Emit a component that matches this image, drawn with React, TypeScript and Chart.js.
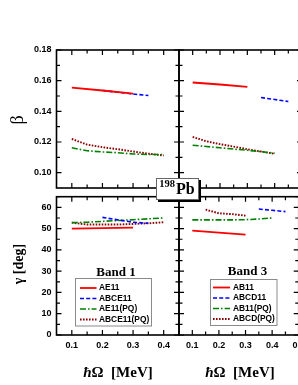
import React, { useEffect, useRef } from "react";
import { Chart, registerables } from "chart.js";
Chart.register(...registerables);

// ---------- data ----------
const hw = [0.1, 0.15, 0.2, 0.25, 0.3, 0.35, 0.4];

// Band 1, beta
const b1BetaAE11X = [0.1, 0.2, 0.3];
const b1BetaAE11 = [0.1555, 0.1536, 0.1516];
const b1BetaABCE11X = [0.2, 0.25, 0.3, 0.35];
const b1BetaABCE11 = [0.1536, 0.1525, 0.1513, 0.1503];
const b1BetaAE11PQ = [0.1162, 0.1143, 0.1135, 0.113, 0.1122, 0.1118, 0.1118];
const b1BetaABCE11PQ = [0.122, 0.1183, 0.1166, 0.1153, 0.1138, 0.1124, 0.1112];

// Band 3, beta
const b3BetaAB11X = [0.1, 0.2, 0.3];
const b3BetaAB11 = [0.1588, 0.1575, 0.156];
const b3BetaABCD11X = [0.35, 0.4, 0.45];
const b3BetaABCD11 = [0.149, 0.1477, 0.1464];
const b3BetaAB11PQ = [0.1179, 0.1171, 0.1162, 0.1154, 0.1146, 0.1137, 0.1127];
const b3BetaABCDPQ = [0.1233, 0.1205, 0.1186, 0.117, 0.1153, 0.1138, 0.1123];

// Band 1, gamma
const b1GamAE11X = [0.1, 0.2, 0.3];
const b1GamAE11 = [50.0, 50.2, 50.5];
const b1GamABCE11X = [0.2, 0.25, 0.3, 0.35];
const b1GamABCE11 = [55.3, 54.1, 53.0, 52.5];
const b1GamAE11PQ = [52.8, 53.0, 53.4, 53.8, 54.2, 54.6, 55.0];
const b1GamABCE11PQ = [52.8, 51.9, 51.9, 51.9, 52.2, 52.5, 53.0];

// Band 3, gamma
const b3GamAB11X = [0.1, 0.2, 0.3];
const b3GamAB11 = [49.1, 48.1, 47.2];
const b3GamABCD11X = [0.35, 0.4, 0.45];
const b3GamABCD11 = [59.2, 58.6, 58.0];
const b3GamAB11PQ = [54.1, 54.1, 54.1, 54.1, 54.2, 54.5, 55.0];
const b3GamABCDPQX = [0.15, 0.2, 0.25, 0.3];
const b3GamABCDPQ = [58.9, 57.2, 56.8, 56.1];

// tick labels
const xTickLeft = [0.1, 0.2, 0.3, 0.4];
const xTickRight = [0.1, 0.2, 0.3, 0.4, 0.5];
const betaTicks = [0.1, 0.12, 0.14, 0.16, 0.18];
const gammaTicks = [0, 10, 20, 30, 40, 50, 60];

const band1Names = ["AE11", "ABCE11", "AE11(PQ)", "ABCE11(PQ)"];
const band3Names = ["AB11", "ABCD11", "AB11(PQ)", "ABCD(PQ)"];

// ---------- styles ----------
const STY = [
  { color: "#ff0000", width: 1.8, dash: [] as number[] },
  { color: "#0000ff", width: 1.6, dash: [4, 2.2] },
  { color: "#008000", width: 1.6, dash: [6, 2, 1.6, 2] },
  { color: "#8b0000", width: 1.9, dash: [1.6, 1.4] },
];

const W = 310;
const H = 385;
const TICK_FONT = { family: "'Liberation Sans', Arial, sans-serif", size: 9, weight: "bold" as const };

function range(a: number, b: number, s: number) {
  const out: number[] = [];
  for (let v = a; v <= b + 1e-9; v += s) out.push(Math.round(v * 10000) / 10000);
  return out;
}

const framePlugin = {
  id: "frame",
  afterDatasetsDraw(chart: any, _a: any, o: any) {
    const { ctx, chartArea: a, scales } = chart;
    const xs = scales.x;
    const ys = scales.y;
    ctx.save();
    ctx.strokeStyle = "#000";
    ctx.lineWidth = 1.2;
    ctx.beginPath();
    for (const [v, len] of o.xt) {
      const px = xs.getPixelForValue(v);
      ctx.moveTo(px, a.top);
      ctx.lineTo(px, a.top + len);
      ctx.moveTo(px, a.bottom);
      ctx.lineTo(px, a.bottom - len);
    }
    for (const [v, len] of o.yt) {
      const py = ys.getPixelForValue(v);
      ctx.moveTo(a.left, py);
      ctx.lineTo(a.left + len, py);
      ctx.moveTo(a.right, py);
      ctx.lineTo(a.right - len, py);
    }
    ctx.stroke();
    ctx.lineWidth = 1.6;
    ctx.strokeRect(a.left, a.top, a.right - a.left, a.bottom - a.top);
    ctx.restore();
  },
};

const legendPlugin = {
  id: "boxLegend",
  afterDraw(chart: any, _a: any, o: any) {
    if (!o || !o.show) return;
    const ctx = chart.ctx;
    ctx.save();
    ctx.fillStyle = "#fff";
    ctx.fillRect(o.x, o.y, o.w, o.h);
    ctx.strokeStyle = "#8a8a8a";
    ctx.lineWidth = 1;
    ctx.strokeRect(o.x + 0.5, o.y + 0.5, o.w, o.h);
    ctx.font = o.font;
    ctx.textBaseline = "middle";
    chart.data.datasets.forEach((ds: any, i: number) => {
      const yy = o.row0 + i * o.dy;
      ctx.strokeStyle = ds.borderColor;
      ctx.lineWidth = ds.borderWidth;
      ctx.setLineDash(ds.borderDash || []);
      ctx.beginPath();
      ctx.moveTo(o.s0, yy);
      ctx.lineTo(o.s1, yy);
      ctx.stroke();
      ctx.setLineDash([]);
      ctx.fillStyle = "#000";
      ctx.fillText(ds.label, o.tx, yy);
    });
    ctx.restore();
  },
};

type Series = { label: string; x: number[]; y: number[] };
type PanelSpec = {
  series: Series[];
  xMax: number;
  yMin: number;
  yMax: number;
  padding: { left: number; top: number; right: number; bottom: number };
  showX: boolean;
  showY: boolean;
  xTicks: number[];
  yTicks: number[];
  yFmt: (v: number) => string;
  xt: [number, number][];
  yt: [number, number][];
  legend?: any;
};

function Panel({ spec }: { spec: PanelSpec }) {
  const ref = useRef<HTMLCanvasElement | null>(null);
  useEffect(() => {
    if (!ref.current) return;
    const chart = new Chart(ref.current, {
      type: "line",
      data: {
        datasets: spec.series.map((s, i) => ({
          label: s.label,
          data: s.x.map((x, k) => ({ x, y: s.y[k] })),
          borderColor: STY[i].color,
          borderWidth: STY[i].width,
          borderDash: STY[i].dash,
          pointRadius: 0,
          fill: false,
          tension: 0,
        })),
      },
      options: {
        animation: false,
        responsive: false,
        maintainAspectRatio: false,
        events: [],
        layout: { padding: spec.padding },
        plugins: {
          legend: { display: false },
          tooltip: { enabled: false },
          frame: { xt: spec.xt, yt: spec.yt },
          boxLegend: spec.legend || { show: false },
        } as any,
        scales: {
          x: {
            type: "linear",
            min: 0.05,
            max: spec.xMax,
            display: spec.showX,
            grid: { display: false, drawTicks: false },
            border: { display: false },
            ticks: {
              font: TICK_FONT,
              color: "#000",
              padding: 5,
              maxRotation: 0,
              autoSkip: false,
              callback: (v: any) => Number(v).toFixed(1),
            },
            afterBuildTicks: (s: any) => {
              s.ticks = spec.xTicks.map((v) => ({ value: v }));
            },
            afterFit: (s: any) => {
              s.height = spec.showX ? 20 : 0;
            },
          },
          y: {
            type: "linear",
            min: spec.yMin,
            max: spec.yMax,
            display: spec.showY,
            grid: { display: false, drawTicks: false },
            border: { display: false },
            ticks: {
              font: TICK_FONT,
              color: "#000",
              padding: 5,
              autoSkip: false,
              callback: (v: any) => spec.yFmt(Number(v)),
            },
            afterBuildTicks: (s: any) => {
              s.ticks = spec.yTicks.map((v) => ({ value: v }));
            },
            afterFit: (s: any) => {
              s.width = spec.showY ? 56.5 : 0;
            },
          },
        },
      } as any,
      plugins: [framePlugin, legendPlugin],
    } as any);
    return () => chart.destroy();
  }, [spec]);
  return (
    <canvas
      ref={ref}
      width={W}
      height={H}
      style={{ position: "absolute", left: 0, top: 0, width: W, height: H }}
    />
  );
}

const isMajorX = (v: number) => Math.abs(v * 10 - Math.round(v * 10)) < 1e-6;
const xtLeft: [number, number][] = range(0.1, 0.4, 0.05).map((v) => [v, isMajorX(v) ? 5 : 3.5]);
const xtRight: [number, number][] = range(0.1, 0.45, 0.05).map((v) => [v, isMajorX(v) ? 5 : 3.5]);
const ytBeta: [number, number][] = range(0.1, 0.18, 0.01).map((v, i) => [v, i % 2 === 0 ? 5 : 3.5]);
const ytGamma: [number, number][] = range(0, 65, 5).map((v, i) => [v, i % 2 === 0 ? 5 : 3.5]);

const betaFmt = (v: number) => v.toFixed(2);
const gamFmt = (v: number) => String(Math.round(v));
const LEG_FONT = "bold 8.4px 'Liberation Sans', Arial, sans-serif";

const panels: PanelSpec[] = [
  {
    series: [
      { label: band1Names[0], x: b1BetaAE11X, y: b1BetaAE11 },
      { label: band1Names[1], x: b1BetaABCE11X, y: b1BetaABCE11 },
      { label: band1Names[2], x: hw, y: b1BetaAE11PQ },
      { label: band1Names[3], x: hw, y: b1BetaABCE11PQ },
    ],
    xMax: 0.45,
    yMin: 0.09,
    yMax: 0.18,
    padding: { left: 0, top: 50, right: W - 179, bottom: H - 188 },
    showX: false,
    showY: true,
    xTicks: xTickLeft,
    yTicks: betaTicks,
    yFmt: betaFmt,
    xt: xtLeft,
    yt: ytBeta,
  },
  {
    series: [
      { label: band3Names[0], x: b3BetaAB11X, y: b3BetaAB11 },
      { label: band3Names[1], x: b3BetaABCD11X, y: b3BetaABCD11 },
      { label: band3Names[2], x: hw, y: b3BetaAB11PQ },
      { label: band3Names[3], x: hw, y: b3BetaABCDPQ },
    ],
    xMax: 0.5,
    yMin: 0.09,
    yMax: 0.18,
    padding: { left: 179, top: 50, right: W - 302, bottom: H - 188 },
    showX: false,
    showY: false,
    xTicks: xTickRight,
    yTicks: betaTicks,
    yFmt: betaFmt,
    xt: xtRight,
    yt: ytBeta,
  },
  {
    series: [
      { label: band1Names[0], x: b1GamAE11X, y: b1GamAE11 },
      { label: band1Names[1], x: b1GamABCE11X, y: b1GamABCE11 },
      { label: band1Names[2], x: hw, y: b1GamAE11PQ },
      { label: band1Names[3], x: hw, y: b1GamABCE11PQ },
    ],
    xMax: 0.45,
    yMin: 0,
    yMax: 65,
    padding: { left: 0, top: 196.7, right: W - 179, bottom: 30 },
    showX: true,
    showY: true,
    xTicks: xTickLeft,
    yTicks: gammaTicks,
    yFmt: gamFmt,
    xt: xtLeft,
    yt: ytGamma,
    legend: { show: true, x: 75, y: 278, w: 76, h: 47.5, row0: 288, dy: 10.5, s0: 80, s1: 96.5, tx: 99, font: LEG_FONT },
  },
  {
    series: [
      { label: band3Names[0], x: b3GamAB11X, y: b3GamAB11 },
      { label: band3Names[1], x: b3GamABCD11X, y: b3GamABCD11 },
      { label: band3Names[2], x: hw, y: b3GamAB11PQ },
      { label: band3Names[3], x: b3GamABCDPQX, y: b3GamABCDPQ },
    ],
    xMax: 0.5,
    yMin: 0,
    yMax: 65,
    padding: { left: 179, top: 196.7, right: W - 302, bottom: 30 },
    showX: true,
    showY: false,
    xTicks: xTickRight,
    yTicks: gammaTicks,
    yFmt: gamFmt,
    xt: xtRight,
    yt: ytGamma,
    legend: { show: true, x: 210, y: 279, w: 66.5, h: 46, row0: 287.5, dy: 10.5, s0: 213, s1: 230, tx: 233, font: LEG_FONT },
  },
];

const SERIF = "'Liberation Serif', 'DejaVu Serif', 'Times New Roman', serif";

function Label({ x, y, rot, size, bold, children }: any) {
  return (
    <div
      style={{
        position: "absolute",
        left: x,
        top: y,
        transform: `translate(-50%, -50%)${rot ? " rotate(-90deg)" : ""}`,
        fontFamily: SERIF,
        fontSize: size,
        fontWeight: bold ? "bold" : "normal",
        whiteSpace: "nowrap",
        lineHeight: 1,
        color: "#000",
      }}
    >
      {children}
    </div>
  );
}

export default function App() {
  return (
    <div
      style={{
        position: "fixed",
        left: 0,
        top: 0,
        width: 298,
        height: 385,
        overflow: "hidden",
        background: "#fff",
      }}
    >
      {panels.map((p, i) => (
        <Panel key={i} spec={p} />
      ))}
      <Label x={17} y={120} rot size={18}>β</Label>
      <Label x={19} y={264} rot size={14} bold>γ [deg]</Label>
      <Label x={118} y={372} size={15} bold>
        <i>ħ</i>Ω&nbsp; [MeV]
      </Label>
      <Label x={240} y={372} size={15} bold>
        <i>ħ</i>Ω&nbsp; [MeV]
      </Label>
      <Label x={116} y={271} size={13} bold>Band 1</Label>
      <Label x={247.5} y={270} size={13} bold>Band 3</Label>
      <div
        style={{
          position: "absolute",
          left: 155.5,
          top: 177.5,
          width: 41,
          height: 20,
          background: "#fff",
          border: "1px solid #666",
          boxShadow: "2px 2px 0 #000",
          display: "flex",
          alignItems: "center",
          justifyContent: "center",
          fontFamily: SERIF,
          fontWeight: "bold",
          color: "#000",
          lineHeight: 1,
        }}
      >
        <span style={{ fontSize: 10.5, position: "relative", top: -4 }}>198</span>
        <span style={{ fontSize: 16, marginLeft: 1 }}>Pb</span>
      </div>
    </div>
  );
}
